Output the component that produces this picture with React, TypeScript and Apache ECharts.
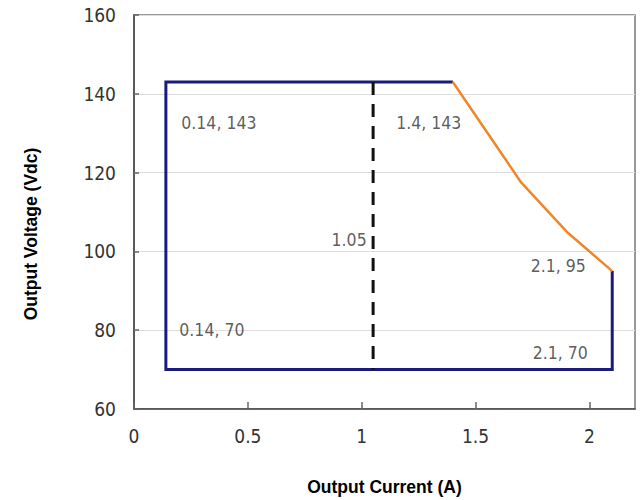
import React, { useEffect, useRef } from "react";
import * as echarts from "echarts";

const xTicks = [0, 0.5, 1, 1.5, 2];
const yTicks = [60, 80, 100, 120, 140, 160];
const boundaryX = [1.4, 0.14, 0.14, 2.1, 2.1];
const boundaryY = [143, 143, 70, 70, 95];
const deratingX = [1.4, 1.7, 1.9, 2.1];
const deratingY = [143, 117.5, 105, 95];
const nominalX = [1.05, 1.05];
const nominalY = [143, 70];
const noteX = [0.14, 1.4, 1.05, 2.1, 0.14, 2.1];
const noteY = [143, 143, 105, 95, 70, 70];
const noteText = ["0.14, 143", "1.4, 143", "1.05", "2.1, 95", "0.14, 70", "2.1, 70"];
const noteOffsets: [number, number][] = [
  [53, 41],
  [-24, 41],
  [-24, 8],
  [-54, -5],
  [46, -40],
  [-52, -17],
];

const narrow = "'Liberation Sans Narrow', 'DejaVu Sans Condensed', sans-serif";
const bold = "Arial, 'Liberation Sans', sans-serif";

export default function App() {
  const ref = useRef<HTMLDivElement>(null);
  useEffect(() => {
    if (!ref.current) return;
    const chart = echarts.init(ref.current, null, { renderer: "svg" });
    const zip = (xs: number[], ys: number[]) => xs.map((x, i) => [x, ys[i]]);
    chart.setOption({
      animation: false,
      backgroundColor: "#ffffff",
      grid: {
        left: 134,
        right: 7,
        top: 15,
        bottom: 91,
        outerBoundsMode: "none",
        containLabel: false,
        show: true,
        borderColor: "#777",
        borderWidth: 1.5,
        backgroundColor: "transparent",
      },
      graphic: [
        {
          type: "text",
          x: 31,
          y: 234,
          rotation: Math.PI / 2,
          style: {
            text: "Output Voltage (Vdc)",
            fontFamily: bold,
            fontWeight: "bold",
            fontSize: 17.5,
            fill: "#000",
            textAlign: "center",
            textVerticalAlign: "middle",
          },
        },
      ],
      xAxis: {
        type: "value",
        min: 0,
        max: 2.2,
        interval: 0.5,
        name: "Output Current (A)",
        nameLocation: "middle",
        nameGap: 69,
        nameTextStyle: { fontFamily: bold, fontWeight: "bold", fontSize: 17.5, color: "#000" },
        axisLine: { show: true, lineStyle: { color: "#444", width: 1.5 } },
        axisTick: { show: true, inside: true, length: 7, lineStyle: { color: "#666", width: 1.5 }, customValues: xTicks },
        axisLabel: {
          margin: 17,
          fontFamily: narrow,
          fontSize: 19,
          color: "#333",
          customValues: xTicks,
          formatter: (v: number) => String(v),
        },
        splitLine: { show: false },
      },
      yAxis: {
        type: "value",
        min: 60,
        max: 160,
        interval: 20,
        axisLine: { show: true, lineStyle: { color: "#444", width: 1.5 } },
        axisTick: { show: true, inside: true, length: 5, lineStyle: { color: "#666", width: 1.5 } },
        axisLabel: {
          margin: 18,
          fontFamily: narrow,
          fontSize: 19,
          color: "#333",
          customValues: yTicks,
        },
        splitLine: { show: true, lineStyle: { color: "#ddd", width: 1 } },
      },
      series: [
        {
          type: "line",
          data: zip(boundaryX, boundaryY),
          symbol: "none",
          lineStyle: { color: "#1b1b7d", width: 3, join: "miter" },
          z: 3,
        },
        {
          type: "line",
          data: zip(deratingX, deratingY),
          symbol: "none",
          lineStyle: { color: "#f0862a", width: 2.5 },
          z: 3,
        },
        {
          type: "line",
          data: zip(nominalX, nominalY),
          symbol: "none",
          lineStyle: { color: "#111", width: 3, type: [13, 9] },
          z: 3,
        },
        {
          type: "scatter",
          symbolSize: 0,
          silent: true,
          data: noteX.map((x, i) => ({
            value: [x, noteY[i]],
            label: {
              show: true,
              position: "inside",
              offset: noteOffsets[i],
              formatter: noteText[i],
              fontFamily: narrow,
              fontSize: 17.5,
              color: "#333",
            },
          })),
          z: 4,
        },
      ],
    });
    return () => chart.dispose();
  }, []);
  return <div ref={ref} style={{ width: 642, height: 500, position: "absolute", left: 0, top: 0 }} />;
}
